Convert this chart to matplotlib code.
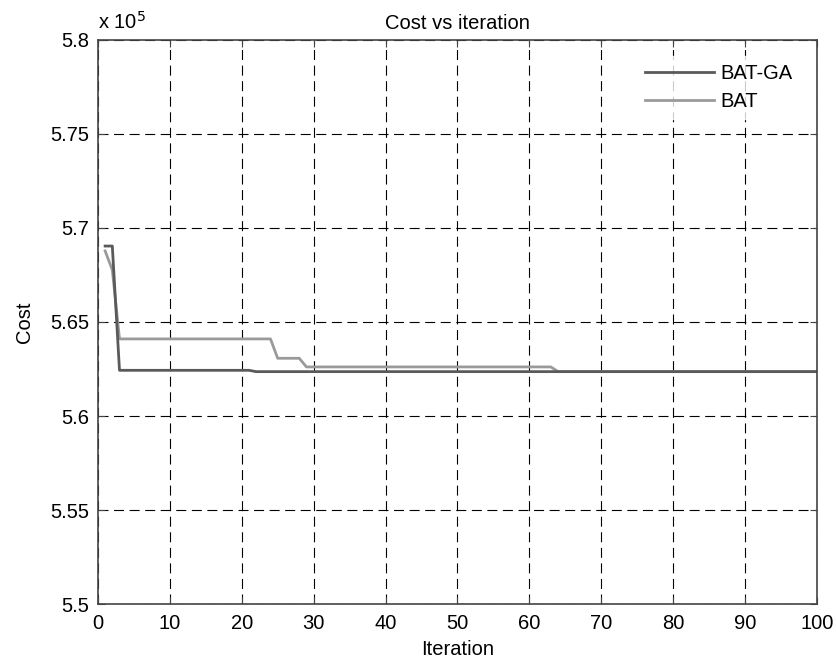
import matplotlib.pyplot as plt
from matplotlib.ticker import FuncFormatter

plt.rcParams['font.family'] = ['Liberation Sans', 'DejaVu Sans']

# step points of each convergence curve (cost in units of 1e5)
iter_batga = [1, 2, 3, 21, 22, 100]
cost_batga = [5.6904, 5.6904, 5.6243, 5.6243, 5.6236, 5.6236]

iter_bat = [1, 2, 3, 24, 25, 28, 29, 63, 64, 100]
cost_bat = [5.6878, 5.6777, 5.6410, 5.6410, 5.6307, 5.6307, 5.6261, 5.6261, 5.6236, 5.6236]

xticks = [0, 10, 20, 30, 40, 50, 60, 70, 80, 90, 100]
yticks = [5.5, 5.55, 5.6, 5.65, 5.7, 5.75, 5.8]

fs = 14.5

fig = plt.figure(figsize=(8.37, 6.62), dpi=100)
ax = fig.add_axes([0.117, 0.0876, 0.859, 0.852])

ax.plot(iter_batga, [c * 1e5 for c in cost_batga], color='#5a5a5a', lw=2.0, label='BAT-GA', zorder=3)
ax.plot(iter_bat, [c * 1e5 for c in cost_bat], color='#9a9a9a', lw=2.0, label='BAT', zorder=2)

ax.set_xlim(0, 100)
ax.set_ylim(5.5e5, 5.8e5)
ax.set_xticks(xticks)
ax.set_yticks([t * 1e5 for t in yticks])
ax.yaxis.set_major_formatter(FuncFormatter(lambda v, p: '%g' % round(v / 1e5, 2)))

ax.grid(True, color='black', linestyle=(0, (9, 5)), linewidth=0.8)
ax.tick_params(direction='in', labelsize=fs, length=5, color='#444444', top=True, right=True)
ax.tick_params(axis='x', pad=7)
ax.tick_params(axis='y', pad=6)
for s in ax.spines.values():
    s.set_color('#444444')
    s.set_linewidth(1.2)
    s.set_zorder(4)

ax.text(0.0, 1.012, r'x 10$^5$', transform=ax.transAxes, fontsize=fs, ha='left', va='bottom')
ax.set_title('Cost vs iteration', fontsize=fs, pad=8)
ax.set_xlabel('Iteration', fontsize=fs, labelpad=5)
ax.set_ylabel('Cost', fontsize=fs, labelpad=12)

leg = ax.legend(loc='upper right', fontsize=fs, frameon=True, handlelength=3.4,
                handletextpad=0.35, labelspacing=0.45, borderaxespad=0.8,
                fancybox=False)
leg.get_frame().set_edgecolor('white')
leg.get_frame().set_facecolor('white')

fig.savefig('out.png', dpi=100)
